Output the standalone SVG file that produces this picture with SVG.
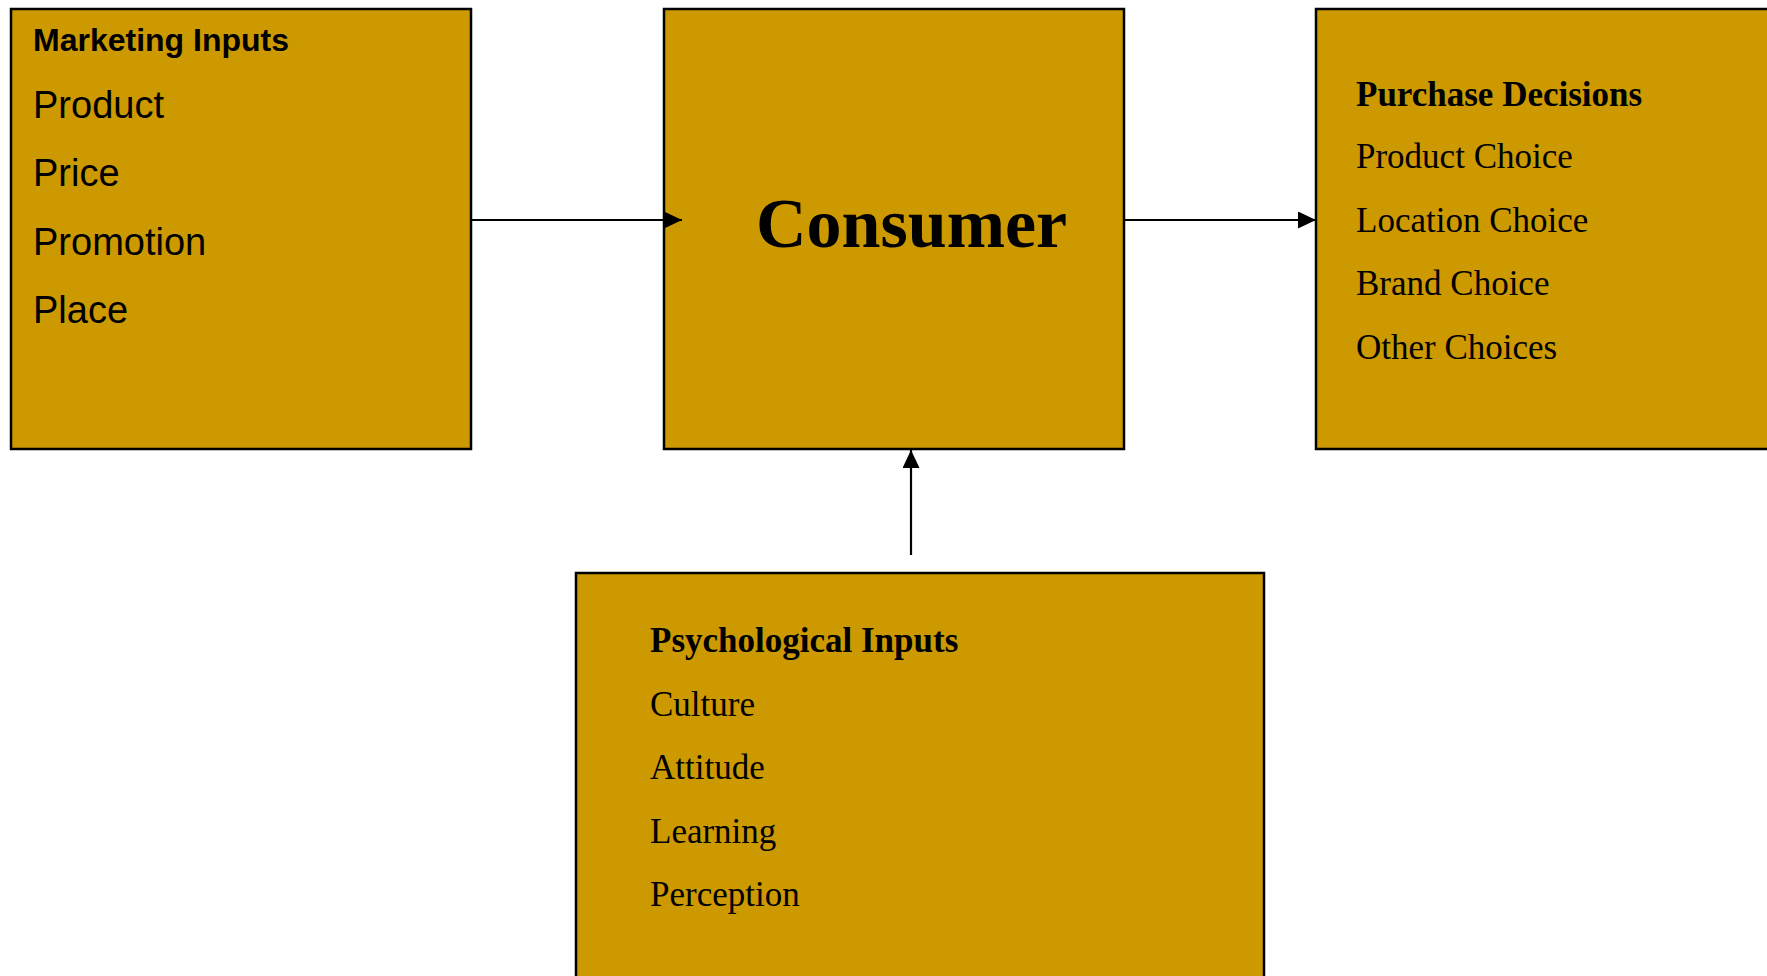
<svg xmlns="http://www.w3.org/2000/svg" width="1767" height="976" viewBox="0 0 1767 976">
  <style>
    .box { fill: #CC9900; stroke: #000; stroke-width: 2.5; }
    .sans { font-family: "Liberation Sans", Arial, sans-serif; fill: #000; }
    .serif { font-family: "Liberation Serif", "Times New Roman", serif; fill: #000; }
    .conn { stroke: #000; stroke-width: 2.2; fill: none; }
  </style>
  <defs>
    <marker id="arrow" markerUnits="userSpaceOnUse" markerWidth="18" markerHeight="17" refX="18" refY="8.5" orient="auto">
      <path d="M0,0 L18,8.5 L0,17 Z" fill="#000"/>
    </marker>
  </defs>
  <rect width="1767" height="976" fill="#fff"/>

  <g id="marketing-inputs">
    <rect class="box" x="11" y="9" width="460" height="440"/>
    <text class="sans" x="33" y="51" font-size="32" font-weight="bold">Marketing Inputs</text>
    <text class="sans" x="33" y="118" font-size="38">Product</text>
    <text class="sans" x="33" y="186" font-size="38">Price</text>
    <text class="sans" x="33" y="255" font-size="38">Promotion</text>
    <text class="sans" x="33" y="323" font-size="38">Place</text>
  </g>

  <g id="consumer">
    <rect class="box" x="664" y="9" width="460" height="440"/>
    <text class="serif" x="756" y="247" font-size="70" font-weight="bold">Consumer</text>
  </g>

  <g id="purchase-decisions">
    <rect class="box" x="1316" y="9" width="470" height="440"/>
    <text class="serif" x="1356" y="106" font-size="35" font-weight="bold">Purchase Decisions</text>
    <text class="serif" x="1356" y="168" font-size="35">Product Choice</text>
    <text class="serif" x="1356" y="232" font-size="35">Location Choice</text>
    <text class="serif" x="1356" y="295" font-size="35">Brand Choice</text>
    <text class="serif" x="1356" y="359" font-size="35">Other Choices</text>
  </g>

  <g id="psychological-inputs">
    <rect class="box" x="576" y="573" width="688" height="420"/>
    <text class="serif" x="650" y="652" font-size="35" font-weight="bold">Psychological Inputs</text>
    <text class="serif" x="650" y="716" font-size="35">Culture</text>
    <text class="serif" x="650" y="779" font-size="35">Attitude</text>
    <text class="serif" x="650" y="843" font-size="35">Learning</text>
    <text class="serif" x="650" y="906" font-size="35">Perception</text>
  </g>

  <g id="connectors">
    <line class="conn" x1="471" y1="220" x2="682" y2="220" marker-end="url(#arrow)"/>
    <line class="conn" x1="1124" y1="220" x2="1316" y2="220" marker-end="url(#arrow)"/>
    <line class="conn" x1="911" y1="555" x2="911" y2="450" marker-end="url(#arrow)"/>
  </g>
</svg>
